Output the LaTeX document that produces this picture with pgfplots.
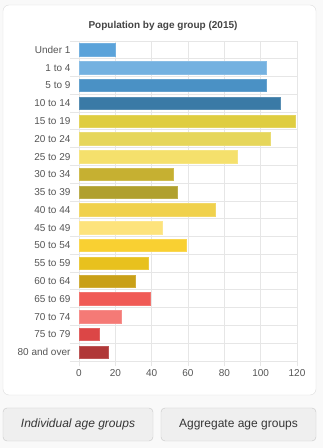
\documentclass[border=0pt]{standalone}
\usepackage{pgfplots}
\pgfplotsset{compat=1.18}
\usepackage{fontspec}
\setmainfont{Liberation Sans}
\definecolor{bgc}{HTML}{F9F9F9}
\definecolor{cardb}{HTML}{DDDDDD}
\definecolor{btnf}{HTML}{EFEFEF}
\definecolor{btnb}{HTML}{C8C8C8}
\definecolor{txt}{HTML}{555555}
\definecolor{ttl}{HTML}{444444}
\definecolor{gridc}{HTML}{E6E6E6}
\definecolor{c0}{HTML}{5BA3DA}
\definecolor{c1}{HTML}{74B1E0}
\definecolor{c2}{HTML}{4A91C5}
\definecolor{c3}{HTML}{3A7AA6}
\definecolor{c4}{HTML}{DFCD40}
\definecolor{c5}{HTML}{E6D65A}
\definecolor{c6}{HTML}{F5E06C}
\definecolor{c7}{HTML}{C6B031}
\definecolor{c8}{HTML}{B0A02E}
\definecolor{c9}{HTML}{F0D14C}
\definecolor{c10}{HTML}{FDE37C}
\definecolor{c11}{HTML}{F9D032}
\definecolor{c12}{HTML}{E8C11E}
\definecolor{c13}{HTML}{C9A018}
\definecolor{c14}{HTML}{F05A55}
\definecolor{c15}{HTML}{F57A76}
\definecolor{c16}{HTML}{DC4646}
\definecolor{c17}{HTML}{B03838}
\begin{document}
\begin{tikzpicture}[x=1pt,y=1pt]
\fill[bgc] (0,0) rectangle (323,448);
\draw[cardb, fill=white, rounded corners=6pt] (3,53) rectangle (316,443);
\node[text=ttl, font=\fontsize{10}{12}\selectfont\bfseries] at (163,422) {Population by age group (2015)};
\begin{axis}[
  at={(79pt,87pt)}, anchor=south west,
  scale only axis, width=218pt, height=320pt,
  xmin=0, xmax=120, ymin=-0.5, ymax=17.5, y dir=reverse,
  xbar, bar width=12.5pt, bar shift=0pt,
  xtick={0,20,...,120},
  ytick={0,...,17},
  yticklabels={Under 1,1 to 4,5 to 9,10 to 14,15 to 19,20 to 24,25 to 29,30 to 34,35 to 39,40 to 44,45 to 49,50 to 54,55 to 59,60 to 64,65 to 69,70 to 74,75 to 79,80 and over},
  minor ytick={-0.5,0.5,...,17.5},
  xmajorgrids, yminorgrids,
  grid style={gridc, line width=0.8pt},
  minor grid style={gridc, line width=0.8pt},
  axis line style={gridc, line width=0.8pt},
  tick align=outside, major tick length=5pt, minor tick length=9pt,
  major y tick style={draw=none},
  major x tick style={gridc, line width=0.8pt},
  minor y tick style={gridc, line width=0.8pt},
  tick label style={text=txt, font=\fontsize{10}{12}\selectfont},
  /pgf/number format/assume math mode=true,
  xtick pos=bottom, ytick pos=left,
  clip=false,
]
\addplot[fill=c0, draw=c0!85!white] coordinates {(20,0)};
\addplot[fill=c1, draw=c1!85!white] coordinates {(103,1)};
\addplot[fill=c2, draw=c2!85!white] coordinates {(103,2)};
\addplot[fill=c3, draw=c3!85!white] coordinates {(111,3)};
\addplot[fill=c4, draw=c4!85!white] coordinates {(119,4)};
\addplot[fill=c5, draw=c5!85!white] coordinates {(105,5)};
\addplot[fill=c6, draw=c6!85!white] coordinates {(87,6)};
\addplot[fill=c7, draw=c7!85!white] coordinates {(52,7)};
\addplot[fill=c8, draw=c8!85!white] coordinates {(54,8)};
\addplot[fill=c9, draw=c9!85!white] coordinates {(75,9)};
\addplot[fill=c10, draw=c10!85!white] coordinates {(46,10)};
\addplot[fill=c11, draw=c11!85!white] coordinates {(59,11)};
\addplot[fill=c12, draw=c12!85!white] coordinates {(38,12)};
\addplot[fill=c13, draw=c13!85!white] coordinates {(31,13)};
\addplot[fill=c14, draw=c14!85!white] coordinates {(39,14)};
\addplot[fill=c15, draw=c15!85!white] coordinates {(23,15)};
\addplot[fill=c16, draw=c16!85!white] coordinates {(11,16)};
\addplot[fill=c17, draw=c17!85!white] coordinates {(16,17)};
\end{axis}
\draw[btnb, fill=btnf, rounded corners=4pt] (3,7) rectangle (153,40);
\node[text=ttl!80!black, font=\fontsize{12}{14}\selectfont\itshape] at (78,23.5) {Individual age groups};
\draw[btnb, fill=btnf, rounded corners=4pt] (161,7) rectangle (316,40);
\node[text=ttl!80!black, font=\fontsize{12}{14}\selectfont] at (238.5,23.5) {Aggregate age groups};
\end{tikzpicture}
\end{document}
